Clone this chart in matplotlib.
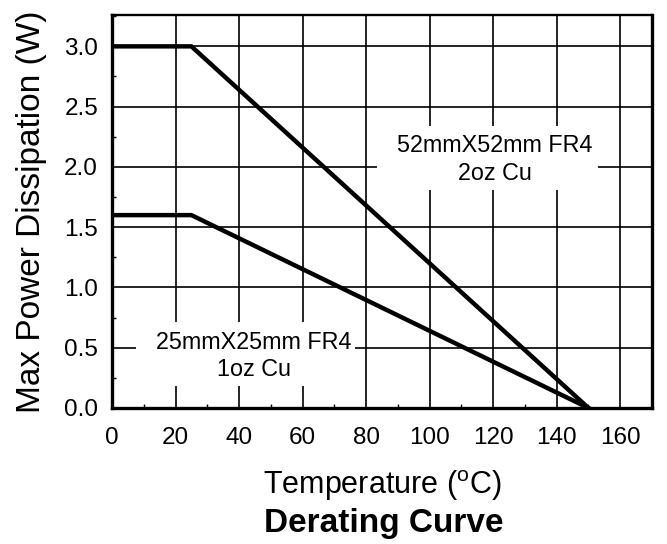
import matplotlib
matplotlib.use('Agg')
import matplotlib.pyplot as plt
from matplotlib.patches import Rectangle
from matplotlib.ticker import MultipleLocator

plt.rcParams['font.family'] = ['Liberation Sans', 'DejaVu Sans']
plt.rcParams['mathtext.fontset'] = 'custom'
plt.rcParams['mathtext.rm'] = 'Liberation Sans'

# derating curves: flat up to 25 C, linear to zero at 150 C
temp = [0, 25, 150]
pwr_52mm = [3.0, 3.0, 0.0]
pwr_25mm = [1.6, 1.6, 0.0]
x_ticks = [0, 20, 40, 60, 80, 100, 120, 140, 160]
y_ticks = [0.0, 0.5, 1.0, 1.5, 2.0, 2.5, 3.0]
lbl_52mm = '52mmX52mm FR4\n2oz Cu'
lbl_25mm = '25mmX25mm FR4\n1oz Cu'


def main():
    fig = plt.figure(figsize=(6.67, 5.44), dpi=100)
    ax = fig.add_axes([0.1679, 0.2500, 0.9775 - 0.1679, 0.9724 - 0.2500])

    ax.plot(temp, pwr_52mm, color='k', lw=3.2, solid_joinstyle='miter', zorder=3)
    ax.plot(temp, pwr_25mm, color='k', lw=3.2, solid_joinstyle='miter', zorder=3)

    ax.set_xlim(0, 170)
    ax.set_ylim(0, 3.26)
    ax.set_xticks(x_ticks)
    ax.set_yticks(y_ticks)
    ax.set_yticklabels([f'{v:.1f}' for v in y_ticks])
    ax.xaxis.set_minor_locator(MultipleLocator(10))
    ax.yaxis.set_minor_locator(MultipleLocator(0.25))
    ax.tick_params(which='major', length=0, labelsize=17.5)
    ax.tick_params(axis='x', which='major', pad=13.5)
    ax.tick_params(axis='y', which='major', pad=10)
    ax.tick_params(which='minor', direction='in', length=3, width=1)
    ax.grid(True, which='major', color='k', lw=1.2, zorder=1)
    ax.set_axisbelow(True)
    for side in ('left', 'bottom', 'right'):
        ax.spines[side].set_linewidth(2.4)
    ax.spines['top'].set_linewidth(1.7)

    # white panels behind the board labels (they blank out the grid)
    ax.add_patch(Rectangle((83.5, 1.81), 69.5, 0.53, fc='white', ec='none', zorder=2))
    ax.add_patch(Rectangle((7.5, 0.18), 69.0, 0.53, fc='white', ec='none', zorder=2))
    ax.text(120.5, 2.06, lbl_52mm, fontsize=16.8, ha='center', va='center',
            multialignment='center', linespacing=1.25, zorder=4)
    ax.text(44.7, 0.43, lbl_25mm, fontsize=16.8, ha='center', va='center',
            multialignment='center', linespacing=1.25, zorder=4)

    ax.set_ylabel('Max Power Dissipation (W)', fontsize=24, labelpad=12)
    ax.set_xlabel('Temperature (${}^{\\mathregular{o}}$C)', fontsize=22, labelpad=14)
    fig.text(0.5757, 0.0221, 'Derating Curve', fontsize=24, fontweight='bold',
             ha='center', va='baseline')

    fig.savefig('out.png', dpi=100)


if __name__ == '__main__':
    main()
